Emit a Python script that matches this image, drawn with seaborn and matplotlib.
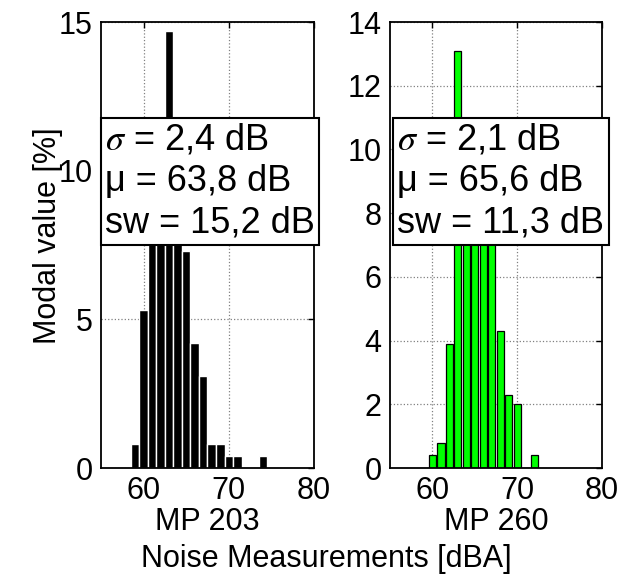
import matplotlib
matplotlib.use("Agg")
import matplotlib.pyplot as plt
import seaborn as sns

sns.set_style("white")
plt.rcParams['font.family'] = ['Liberation Sans', 'DejaVu Sans']
plt.rcParams['mathtext.fontset'] = 'stix'
plt.rcParams['text.color'] = 'black'
plt.rcParams['axes.labelcolor'] = 'black'

# histogram data (noise level bin centre, share in %)
mp203_level = [59, 60, 61, 62, 63, 64, 65, 66, 67, 68, 69, 70, 71, 74]
mp203_pct = [0.8, 5.3, 9.2, 10.4, 14.7, 9.6, 7.3, 4.2, 3.1, 0.8, 0.8, 0.4, 0.4, 0.4]

mp260_level = [60, 61, 62, 63, 64, 65, 66, 67, 68, 69, 70, 72]
mp260_pct = [0.4, 0.8, 3.9, 13.1, 9.8, 10.6, 10.2, 8.4, 4.3, 2.3, 2.0, 0.4]

stats203 = [r"$\sigma$ = 2,4 dB", "μ = 63,8 dB", "sw = 15,2 dB"]
stats260 = [r"$\sigma$ = 2,1 dB", "μ = 65,6 dB", "sw = 11,3 dB"]

fig = plt.figure(figsize=(6.23, 5.79), dpi=100)
ax1 = fig.add_axes([0.1621, 0.1917, 0.3419, 0.7703])
ax2 = fig.add_axes([0.626, 0.1917, 0.3403, 0.7703])

sns.histplot(x=mp203_level, weights=mp203_pct, discrete=True, color='black',
             edgecolor='white', linewidth=1.0, alpha=1, ax=ax1)
sns.histplot(x=mp260_level, weights=mp260_pct, discrete=True, shrink=0.86,
             color='#00ff00', edgecolor='black', linewidth=0.9, alpha=1, ax=ax2)

def style_axes(ax, ymax, ystep, label, stats, tx):
    ax.set_xlim(55, 80)
    ax.set_ylim(0, ymax)
    ax.set_xticks([60, 70, 80])
    ax.set_yticks(range(0, ymax + 1, ystep))
    ax.set_axisbelow(True)
    ax.grid(True, linestyle=':', color='#808080', linewidth=0.9)
    for s in ax.spines.values():
        s.set_visible(True)
        s.set_color('black')
        s.set_linewidth(1.3)
    ax.tick_params(direction='in', length=4, width=1, top=True, right=True,
                   labelsize=22, pad=6, colors='black')
    ax.set_ylabel('')
    ax.set_xlabel(label, fontsize=22)
    ax.xaxis.set_label_coords(0.5, -0.087)
    ax.xaxis.label.set_va('top')
    ax.text(tx, 0.775, "\n".join(stats), transform=ax.transAxes, fontsize=26,
            ha='left', va='top', linespacing=1.25,
            bbox=dict(boxstyle='square,pad=0.12', fc='white', ec='black', lw=1.5))

style_axes(ax1, 15, 5, 'MP 203', stats203, 0.02)
style_axes(ax2, 14, 2, 'MP 260', stats260, 0.035)

ax1.set_ylabel('Modal value [%]', fontsize=22)
ax1.yaxis.set_label_coords(-0.178, 0.52)

fig.text(326 / 623, 0.0604, 'Noise Measurements [dBA]', fontsize=22,
         ha='center', va='top')

fig.savefig('out.png', dpi=100, facecolor='white')
